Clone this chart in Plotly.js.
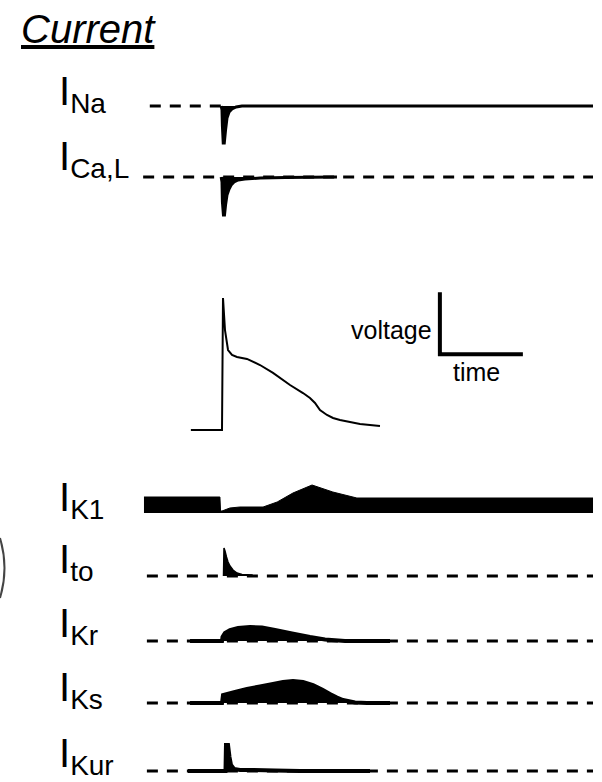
<!DOCTYPE html>
<html>
<head>
<meta charset="utf-8">
<script src="https://cdn.plot.ly/plotly-3.0.1.min.js"></script>
<style>
  html, body { margin: 0; padding: 0; background: #fff; }
  #chart { width: 602px; height: 782px; }
</style>
</head>
<body>
<div id="chart"></div>
<script>
// ---- Membrane currents during one atrial action potential (schematic) ----
// Time in ms from the stimulus; currents in arbitrary units (outward > 0).

// Action potential (mV)
const apTime = [-75, 0, 2.4, 7.2, 14.5, 24.1, 36.1, 60.2, 91.6, 122.9, 163.9, 195.2, 212, 224.1, 236.1, 253, 267.5, 284.3, 332.5, 380.7];
const apVolt = [-85, -85, 21.5, -4.4, -20.5, -24.5, -26.1, -27.7, -32.6, -39, -48.7, -55.2, -59.2, -63.2, -68.9, -72.9, -75.3, -76.9, -80.2, -81.8];

// Scale bar: 50 mV by 200 ms
const scaleBarMv = 50;
const scaleBarMs = 200;
const scaleBarCorner = [525, -24];

// I_Na
const naTime = [-2, 0, 1, 3, 5.5, 8.5, 12, 17, 24, 34, 48, 894];
const naCurr = [0, -2, -10, -18.5, -18.5, -12, -6, -3, -1.5, -0.5, 0, 0];
const naDash = [-174, 0];

// I_Ca,L
const caTime = [-2, 0, 1, 3.5, 6, 8.5, 12, 17, 22, 29, 39, 55, 92, 152, 277];
const caCurr = [0, -2.5, -12.5, -19, -19, -14, -9, -6, -4, -2.5, -1.5, -1, -0.5, -0.25, 0];
const caDash = [-190, 894];

// I_K1
const k1Time = [-188, -5, -3.5, 0, 19, 43, 99, 133, 171, 217, 267, 325, 894];
const k1Curr = [8, 8, 1, 1, 2.5, 3, 3, 5.5, 10, 14, 10.5, 7.5, 7.5];

// I_to
const toTime = [3.6, 4.8, 7.2, 10.8, 14.5, 19.3, 26.5, 36.1, 48.2, 72.3, 74.7];
const toCurr = [0, 14, 12.5, 9.5, 7, 5, 3, 1.5, 0.75, 0.5, 0];
const toDash = [-181, 894];

// I_Kr
const krTime = [-77, 0, 1.2, 7.2, 19.3, 38.6, 67.5, 96.4, 127.7, 168.7, 212, 248.2, 296.4, 356.6, 404.8];
const krCurr = [0, 0, 2, 4, 5.5, 6.5, 7, 6.75, 5.5, 3.75, 2, 0.75, 0, 0, 0];
const krDash = [-181, 894];

// I_Ks
const ksTime = [-77, 0, 2.4, 31.3, 60.2, 91.6, 122.9, 147, 171.1, 195.2, 219.3, 241, 260.2, 277.1, 291.6, 320.5, 349.4, 404.8];
const ksCurr = [0, 0, 4, 5.5, 7, 8.25, 9.5, 10.5, 11, 10.5, 9, 6.75, 4.5, 2.75, 1.5, 0.25, 0, 0];
const ksDash = [-181, 894];

// I_Kur
const kurTime = [-82, 8.4, 9.6, 14.5, 18.1, 21.7, 28.9, 43.4, 67.5, 127.7, 188, 356.6];
const kurCurr = [0, 0, 13, 13, 7, 3, 1, 0.5, 0.5, 0.25, 0, 0];
const kurDash = [-181, 894];

// Row labels
const labelMain = 'I';
const labelSubs = ['Na', 'Ca,L', 'K1', 'to', 'Kr', 'Ks', 'Kur'];

// ---- geometry ----
const W = 602, H = 782;
const stimPx = 222;          // horizontal position of the stimulus
const pxPerMs = 0.415;
const pxPerUnit = 2;         // current rows
const pxPerMv = 1.24;        // voltage row

function yAxis(py0, above, below, k, v0) {
  return {
    domain: [1 - (py0 + below) / H, 1 - (py0 - above) / H],
    range: [v0 - below / k, v0 + above / k],
    visible: false, fixedrange: true
  };
}
const py = v => 1 - v / H;   // pixel row -> paper fraction
const px = v => v / W;

const BLACK = '#000';
const dashStyle = {color: BLACK, width: 3, dash: '11px,9px'};

function dashLine(span, ya) {
  return {x: span, y: [0, 0], xaxis: 'x', yaxis: ya, mode: 'lines',
          line: dashStyle, hoverinfo: 'skip'};
}
function filled(t, v, ya, w) {
  return {x: t, y: v, xaxis: 'x', yaxis: ya, mode: 'lines', fill: 'tozeroy',
          fillcolor: BLACK, line: {color: BLACK, width: w, simplify: false},
          hoverinfo: 'skip'};
}

const traces = [
  dashLine(naDash, 'y'),
  dashLine(caDash, 'y2'),
  dashLine(toDash, 'y5'),
  dashLine(krDash, 'y6'),
  dashLine(ksDash, 'y7'),
  dashLine(kurDash, 'y8'),
  filled(naTime, naCurr, 'y', 3),
  filled(caTime, caCurr, 'y2', 3),
  {x: apTime, y: apVolt, xaxis: 'x', yaxis: 'y3', mode: 'lines',
   line: {color: BLACK, width: 2, simplify: false}, hoverinfo: 'skip'},
  {x: [scaleBarCorner[0], scaleBarCorner[0], scaleBarCorner[0] + scaleBarMs],
   y: [scaleBarCorner[1] + scaleBarMv, scaleBarCorner[1], scaleBarCorner[1]],
   xaxis: 'x', yaxis: 'y3', mode: 'lines',
   line: {color: BLACK, width: 4}, hoverinfo: 'skip'},
  filled(k1Time, k1Curr, 'y4', 1),
  filled(toTime, toCurr, 'y5', 1.5),
  filled(krTime, krCurr, 'y6', 4),
  filled(ksTime, ksCurr, 'y7', 4),
  filled(kurTime, kurCurr, 'y8', 4)
];

// label baselines (pixel rows) for each current
const labelBase = [108, 173, 514, 576, 640, 704, 770];
const labelFont = {family: 'Liberation Sans, Arial, sans-serif', size: 40, color: BLACK};

const annotations = labelSubs.map((s, i) => ({
  xref: 'paper', yref: 'paper', x: px(57), y: py(labelBase[i] - 41),
  xanchor: 'left', yanchor: 'top', showarrow: false,
  text: labelMain + '<sub>' + s + '</sub>', font: labelFont, align: 'left'
}));

annotations.push(
  {xref: 'paper', yref: 'paper', x: px(19), y: py(5), xanchor: 'left', yanchor: 'top',
   showarrow: false, text: '<i><u>Current</u></i>',
   font: {family: 'Liberation Sans, Arial, sans-serif', size: 40, color: BLACK}},
  {xref: 'paper', yref: 'paper', x: px(434), y: py(330), xanchor: 'right', yanchor: 'middle',
   showarrow: false, text: 'voltage',
   font: {family: 'Liberation Sans, Arial, sans-serif', size: 25, color: BLACK}},
  {xref: 'paper', yref: 'paper', x: px(476), y: py(372), xanchor: 'center', yanchor: 'middle',
   showarrow: false, text: 'time',
   font: {family: 'Liberation Sans, Arial, sans-serif', size: 25, color: BLACK}}
);

const layout = {
  width: W, height: H,
  margin: {l: 0, r: 0, t: 0, b: 0, pad: 0},
  paper_bgcolor: '#fff', plot_bgcolor: 'rgba(0,0,0,0)',
  showlegend: false, hovermode: false,
  xaxis: {domain: [0, 1], range: [-stimPx / pxPerMs, (W - stimPx) / pxPerMs],
          visible: false, fixedrange: true},
  yaxis:  yAxis(106, 25, 45, pxPerUnit, 0),
  yaxis2: yAxis(177, 20, 45, pxPerUnit, 0),
  yaxis3: yAxis(430, 150, 15, pxPerMv, -85),
  yaxis4: yAxis(513, 35, 10, pxPerUnit, 0),
  yaxis5: yAxis(576, 35, 10, pxPerUnit, 0),
  yaxis6: yAxis(641, 30, 10, pxPerUnit, 0),
  yaxis7: yAxis(703, 35, 10, pxPerUnit, 0),
  yaxis8: yAxis(771, 35, 11, pxPerUnit, 0),
  annotations: annotations,
  shapes: [
    // bracket edge at the left margin
    {type: 'path', xref: 'paper', yref: 'paper',
     path: `M ${px(0)},${py(538)} Q ${px(9)},${py(568)} ${px(0)},${py(598)}`,
     line: {color: '#444', width: 2}}
  ]
};

Plotly.newPlot('chart', traces, layout, {staticPlot: true, displayModeBar: false});
</script>
</body>
</html>
